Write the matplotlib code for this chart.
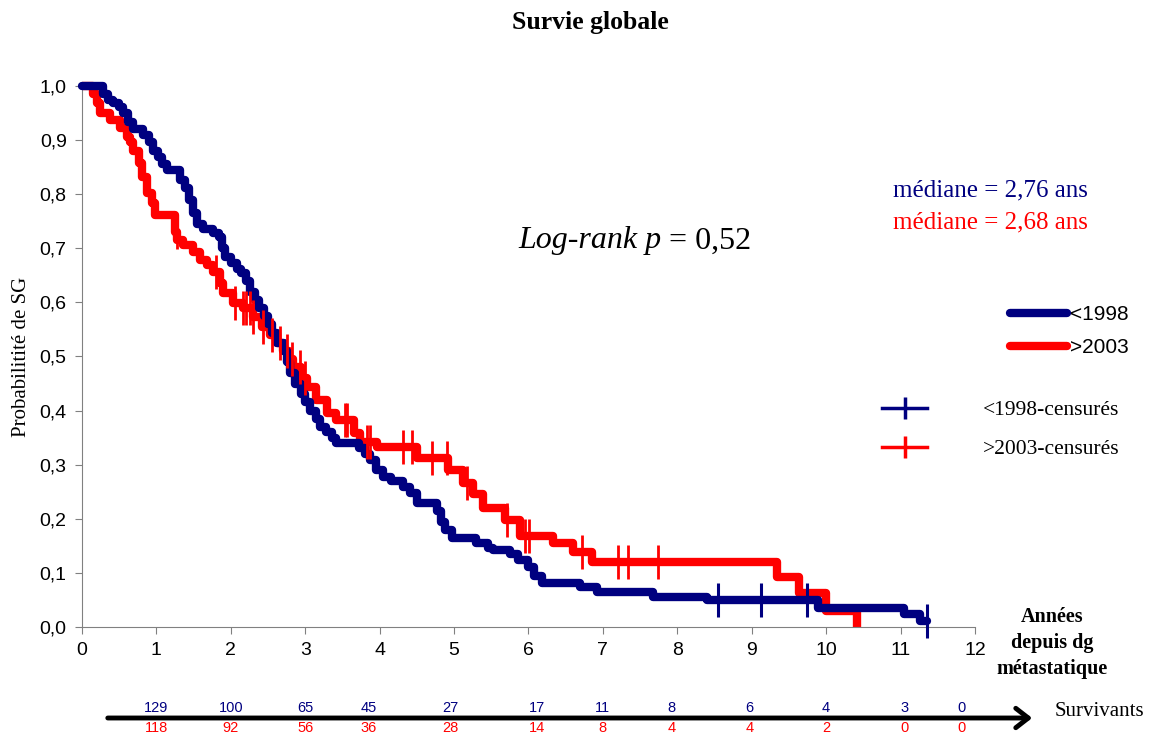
import matplotlib
matplotlib.use("Agg")
import matplotlib.pyplot as plt
from matplotlib.lines import Line2D
from matplotlib import transforms

SERIF = "Liberation Serif"
SANS = "Liberation Sans"
NAVY = "#000080"
RED = "#ff0000"

# courbe <1998 : temps (années) et survie apres chaque saut
t_1998 = [0, 0.28, 0.35, 0.42, 0.50, 0.55, 0.62, 0.68, 0.82, 0.90, 0.96, 1.02, 1.08, 1.14,
          1.32, 1.38, 1.44, 1.49, 1.55, 1.62, 1.76, 1.84, 1.88, 1.92, 2.00, 2.08, 2.14,
          2.20, 2.26, 2.32, 2.38, 2.44, 2.50, 2.56, 2.62, 2.72, 2.76, 2.80, 2.86, 2.94,
          3.00, 3.06, 3.14, 3.20, 3.28, 3.36, 3.42, 3.72, 3.80, 3.87, 3.95, 4.05, 4.15,
          4.32, 4.41, 4.50, 4.77, 4.82, 4.88, 4.97, 5.30, 5.45, 5.52, 5.75, 5.86, 6.00,
          6.08, 6.18, 6.69, 6.92, 7.68, 8.40, 9.89, 11.04, 11.26, 11.36]
s_1998 = [1.0, 0.985, 0.975, 0.968, 0.961, 0.95, 0.933, 0.92, 0.91, 0.896, 0.88, 0.869, 0.855,
          0.845, 0.826, 0.812, 0.79, 0.765, 0.745, 0.735, 0.728, 0.72, 0.70, 0.684, 0.672,
          0.662, 0.654, 0.64, 0.62, 0.604, 0.59, 0.575, 0.56, 0.543, 0.525, 0.51, 0.49,
          0.47, 0.45, 0.43, 0.415, 0.40, 0.385, 0.37, 0.36, 0.35, 0.34, 0.33, 0.32, 0.309,
          0.29, 0.277, 0.27, 0.258, 0.248, 0.229, 0.215, 0.195, 0.18, 0.164, 0.155, 0.146,
          0.142, 0.135, 0.124, 0.111, 0.095, 0.081, 0.074, 0.064, 0.055, 0.049, 0.036,
          0.024, 0.012, 0.012]
cens_1998 = [8.55, 9.13, 9.74, 11.36]

# courbe >2003
t_2003 = [0, 0.15, 0.20, 0.24, 0.38, 0.51, 0.60, 0.65, 0.69, 0.76, 0.80, 0.87, 0.94, 0.98,
          1.25, 1.28, 1.36, 1.49, 1.59, 1.68, 1.76, 1.85, 1.90, 2.03, 2.16, 2.30, 2.42,
          2.52, 2.62, 2.70, 2.78, 2.84, 2.94, 3.02, 3.15, 3.29, 3.42, 3.65, 3.73, 3.97,
          4.50, 4.92, 5.12, 5.25, 5.39, 5.68, 5.88, 6.33, 6.60, 6.85, 9.34, 9.63, 10.00,
          10.41]
s_2003 = [1.0, 0.985, 0.968, 0.95, 0.937, 0.922, 0.906, 0.896, 0.88, 0.857, 0.832, 0.802,
          0.784, 0.762, 0.73, 0.715, 0.706, 0.693, 0.678, 0.669, 0.656, 0.636, 0.617, 0.599,
          0.59, 0.573, 0.555, 0.54, 0.525, 0.51, 0.495, 0.48, 0.46, 0.444, 0.42, 0.395,
          0.383, 0.358, 0.342, 0.333, 0.312, 0.29, 0.266, 0.245, 0.22, 0.198, 0.168, 0.155,
          0.139, 0.12, 0.092, 0.062, 0.03, 0.0]
cens_2003 = [1.27, 1.80, 2.06, 2.16, 2.21, 2.26, 2.30, 2.43, 2.55, 2.66, 2.75, 2.82, 2.93,
             3.00, 3.53, 3.56, 3.83, 3.87, 4.32, 4.43, 4.70, 4.90, 5.17, 5.71, 5.95, 6.01,
             6.72, 7.20, 7.34, 7.74]

# nombre de survivants
risk_t = [1, 2, 3, 3.85, 4.95, 6.12, 7, 7.92, 8.97, 10, 11.05, 11.82]
risk_1998 = [129, 100, 65, 45, 27, 17, 11, 8, 6, 4, 3, 0]
risk_2003 = [118, 92, 56, 36, 28, 14, 8, 4, 4, 2, 0, 0]

y_ticks = [0.0, 0.1, 0.2, 0.3, 0.4, 0.5, 0.6, 0.7, 0.8, 0.9, 1.0]
x_ticks = list(range(13))


def surv_at(t_list, s_list, t):
    s = s_list[0]
    for ti, si in zip(t_list, s_list):
        if ti <= t:
            s = si
    return s


fig = plt.figure(figsize=(11.5, 7.33), dpi=100)
ax = fig.add_axes([0.0713, 0.1446, 0.7765, 0.7381])

ax.step(t_1998, s_1998, where="post", color=NAVY, lw=6, solid_capstyle="round",
        solid_joinstyle="round", clip_on=False, zorder=3)
ax.step(t_2003, s_2003, where="post", color=RED, lw=6, solid_capstyle="butt",
        clip_on=False, zorder=2)
ax.plot(cens_1998, [surv_at(t_1998, s_1998, c) for c in cens_1998], ls="none",
        marker="|", ms=24, mew=2.2, color=NAVY, clip_on=False, zorder=4)
ax.plot(cens_2003, [surv_at(t_2003, s_2003, c) for c in cens_2003], ls="none",
        marker="|", ms=24, mew=2.0, color=RED, clip_on=False, zorder=4)

ax.set_xlim(0, 12)
ax.set_ylim(0, 1.0)
ax.set_xticks(x_ticks)
ax.set_xticklabels([str(x) for x in x_ticks], fontfamily=SANS, fontsize=14)
ax.set_yticks(y_ticks)
ax.set_yticklabels([f"{v:.1f}".replace(".", ",") for v in y_ticks], fontfamily=SANS, fontsize=14)
for side in ["top", "right"]:
    ax.spines[side].set_visible(False)
for side in ["left", "bottom"]:
    ax.spines[side].set_color("#808080")
ax.tick_params(direction="out", length=5, color="#808080", pad=6)
ax.set_ylabel("Probabilitité de SG", fontfamily=SERIF, fontsize=15, labelpad=6)

fig.text(590 / 1150, 1 - 23 / 733, "Survie globale", fontfamily=SERIF, fontweight="bold",
         fontsize=18.5, ha="center", va="center")

t1 = fig.text(518 / 1150, 1 - 241 / 733, "Log-rank p", fontfamily=SERIF, style="italic",
              fontsize=23, ha="left", va="center")
ax.annotate(" = 0,52", xy=(1, 0), xycoords=t1, fontfamily=SERIF, fontsize=23,
            ha="left", va="bottom")

fig.text(1088 / 1150, 1 - 190 / 733, "médiane = 2,76 ans", color=NAVY, fontfamily=SERIF,
         fontsize=18, ha="right", va="center")
fig.text(1088 / 1150, 1 - 222 / 733, "médiane = 2,68 ans", color=RED, fontfamily=SERIF,
         fontsize=18, ha="right", va="center")

h1 = [Line2D([], [], color=NAVY, lw=6, solid_capstyle="round"),
      Line2D([], [], color=RED, lw=6, solid_capstyle="round")]
fig.legend(h1, ["<1998", ">2003"], loc="upper left",
           bbox_to_anchor=(1010 / 1150, 1 - 305 / 733), frameon=False,
           prop={"family": SANS, "size": 15}, handlelength=2.75,
           handletextpad=0.15, labelspacing=0.68, borderpad=0, borderaxespad=0)
h2 = [Line2D([], [], color=NAVY, lw=2.5, marker="|", ms=16, mew=2.5),
      Line2D([], [], color=RED, lw=2.5, marker="|", ms=16, mew=2.5)]
fig.legend(h2, ["<1998-censurés", ">2003-censurés"], loc="upper left",
           bbox_to_anchor=(882 / 1150, 1 - 400 / 733), frameon=False,
           prop={"family": SERIF, "size": 15.5}, handlelength=2.1,
           handletextpad=2.6, labelspacing=0.88, borderpad=0, borderaxespad=0,
           numpoints=1)

fig.text(1052 / 1150, 1 - 643 / 733, "Années\ndepuis dg\nmétastatique", fontfamily=SERIF,
         fontweight="bold", fontsize=14.5, ha="center", va="center", linespacing=1.4)

blend = transforms.blended_transform_factory(ax.transData, fig.transFigure)
for x, n1, n2 in zip(risk_t, risk_1998, risk_2003):
    ax.text(x, 1 - 708 / 733, str(n1), transform=blend, color=NAVY, fontfamily=SANS,
            fontsize=10.5, ha="center", va="center", clip_on=False)
    ax.text(x, 1 - 728 / 733, str(n2), transform=blend, color=RED, fontfamily=SANS,
            fontsize=10.5, ha="center", va="center", clip_on=False)

fig.add_artist(matplotlib.patches.FancyArrowPatch(
    (105 / 1150, 1 - 718 / 733), (1035 / 1150, 1 - 718 / 733), transform=fig.transFigure,
    arrowstyle="->,head_length=9,head_width=7", color="black", lw=3.5, mutation_scale=1))
fig.text(1055 / 1150, 1 - 712 / 733, "Survivants", fontfamily=SERIF, fontsize=15,
         ha="left", va="center")

fig.savefig("out.png", dpi=100)
